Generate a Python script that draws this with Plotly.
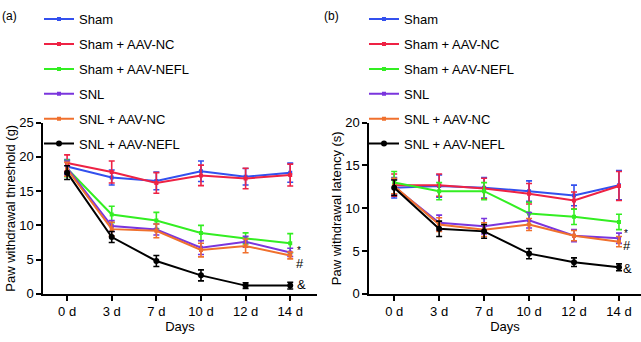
import plotly.graph_objects as go

days = ["0 d", "3 d", "7 d", "10 d", "12 d", "14 d"]
groups = ["Sham", "Sham + AAV-NC", "Sham + AAV-NEFL", "SNL", "SNL + AAV-NC", "SNL + AAV-NEFL"]
colors = ["#3350ee", "#ee2244", "#33ee22", "#7a35dd", "#f0702d", "#000000"]

# (a) Paw withdrawal threshold (g)
pwt_sham = [18.6, 17.0, 16.5, 17.9, 17.1, 17.7]
pwt_sham_nc = [19.1, 17.8, 16.2, 17.3, 16.85, 17.35]
pwt_sham_nefl = [18.3, 11.6, 10.7, 8.9, 8.1, 7.4]
pwt_snl = [18.4, 9.9, 9.4, 6.75, 7.6, 6.05]
pwt_snl_nc = [18.2, 9.45, 9.2, 6.4, 7.0, 5.6]
pwt_snl_nefl = [17.7, 8.3, 4.8, 2.7, 1.2, 1.2]

pwt_sham_sd = [1.0, 1.1, 1.3, 1.5, 1.2, 1.4]
pwt_sham_nc_sd = [1.2, 1.6, 1.5, 1.5, 1.5, 1.6]
pwt_sham_nefl_sd = [1.2, 1.2, 1.2, 1.1, 0.8, 1.4]
pwt_snl_sd = [1.0, 0.8, 0.8, 1.0, 0.8, 0.6]
pwt_snl_nc_sd = [1.0, 1.0, 1.0, 1.0, 1.0, 0.5]
pwt_snl_nefl_sd = [1.0, 0.8, 0.8, 0.8, 0.4, 0.5]

# (b) Paw withdrawal latency (s)
pwl_sham = [12.4, 12.6, 12.4, 12.0, 11.5, 12.7]
pwl_sham_nc = [12.7, 12.7, 12.3, 11.7, 10.9, 12.6]
pwl_sham_nefl = [13.0, 12.0, 12.0, 9.4, 9.0, 8.4]
pwl_snl = [12.5, 8.3, 7.9, 8.6, 6.8, 6.5]
pwl_snl_nc = [12.6, 8.1, 7.5, 8.1, 6.8, 6.1]
pwl_snl_nefl = [12.4, 7.6, 7.3, 4.7, 3.7, 3.1]

pwl_sham_sd = [1.2, 1.3, 1.2, 1.2, 1.2, 1.7]
pwl_sham_nc_sd = [1.3, 1.3, 1.2, 1.2, 1.0, 1.7]
pwl_sham_nefl_sd = [1.3, 1.0, 1.0, 1.3, 0.9, 0.9]
pwl_snl_sd = [0.9, 0.9, 0.9, 0.9, 0.7, 0.6]
pwl_snl_nc_sd = [0.9, 0.8, 0.8, 0.7, 0.6, 0.6]
pwl_snl_nefl_sd = [0.9, 0.9, 0.8, 0.6, 0.5, 0.4]

pwt = [pwt_sham, pwt_sham_nc, pwt_sham_nefl, pwt_snl, pwt_snl_nc, pwt_snl_nefl]
pwt_sd = [pwt_sham_sd, pwt_sham_nc_sd, pwt_sham_nefl_sd, pwt_snl_sd, pwt_snl_nc_sd, pwt_snl_nefl_sd]
pwl = [pwl_sham, pwl_sham_nc, pwl_sham_nefl, pwl_snl, pwl_snl_nc, pwl_snl_nefl]
pwl_sd = [pwl_sham_sd, pwl_sham_nc_sd, pwl_sham_nefl_sd, pwl_snl_sd, pwl_snl_nc_sd, pwl_snl_nefl_sd]

FONT = "Liberation Sans, Arial, sans-serif"
fig = go.Figure()

for panel, (vals, sds, xa, ya, leg) in enumerate([(pwt, pwt_sd, "x", "y", "legend"),
                                                  (pwl, pwl_sd, "x2", "y2", "legend2")]):
    for i, g in enumerate(groups):
        black = (i == 5)
        fig.add_trace(go.Scatter(
            x=days, y=vals[i], name=g, mode="lines+markers",
            xaxis=xa, yaxis=ya, legend=leg, legendgroup=f"{panel}-{i}",
            line=dict(color=colors[i], width=2),
            marker=dict(color=colors[i], size=6 if black else 4, symbol="circle" if black else "square"),
            error_y=dict(type="data", array=sds[i], color=colors[i], thickness=1.6, width=3),
        ))

axis_common = dict(showline=True, linecolor="black", linewidth=1.5, ticks="outside",
                   ticklen=5, tickwidth=1.5, tickcolor="black", showgrid=False, zeroline=False,
                   tickfont=dict(family=FONT, size=13, color="black"),
                   title_font=dict(family=FONT, size=13, color="black"))

fig.update_layout(
    width=641, height=342, margin=dict(l=0, r=0, t=0, b=0),
    paper_bgcolor="white", plot_bgcolor="white",
    font=dict(family=FONT, size=13, color="black"),
    xaxis=dict(domain=[43/641, 317/641], type="category", range=[-0.54, 5.6],
               title=dict(text="Days", standoff=2), anchor="y", **axis_common),
    yaxis=dict(domain=[42/342, 221/342], range=[0, 25], dtick=5,
               title=dict(text="Paw withdrawal threshold (g)", standoff=1), anchor="x", **axis_common),
    xaxis2=dict(domain=[369/641, 1.0], type="category", range=[-0.56, 5.49],
                title=dict(text="Days", standoff=2), anchor="y2", **axis_common),
    yaxis2=dict(domain=[42/342, 221/342], range=[0, 20], dtick=5,
                title=dict(text="Paw withdrawal latency (s)", standoff=1), anchor="x2", **axis_common),
    legend=dict(x=39/641, y=1 + 3/342, xanchor="left", yanchor="top", bgcolor="rgba(0,0,0,0)",
                tracegroupgap=5, font=dict(family=FONT, size=13, color="black")),
    legend2=dict(x=364/641, y=1 + 3/342, xanchor="left", yanchor="top", bgcolor="rgba(0,0,0,0)",
                 tracegroupgap=5, font=dict(family=FONT, size=13, color="black")),
    showlegend=True,
)

ann = []
for xa, ya, pos in [("x", "y", [(6.4, "*", 9), (4.5, "#", 10), (1.3, "&", 11)]),
                    ("x2", "y2", [(7.1, "*", 7), (5.7, "#", 8), (3.0, "&", 9)])]:
    for yv, txt, dx in pos:
        ann.append(dict(x="14 d", y=yv, xref=xa, yref=ya, text=txt, showarrow=False,
                        xshift=dx, font=dict(family=FONT, size=13 if txt != "*" else 10, color="black")))
ann.append(dict(x=0, y=1, xref="paper", yref="paper", xanchor="left", yanchor="top",
                text="(a)", showarrow=False, font=dict(family=FONT, size=12, color="black")))
ann.append(dict(x=322/641, y=1, xref="paper", yref="paper", xanchor="left", yanchor="top",
                text="(b)", showarrow=False, font=dict(family=FONT, size=12, color="black")))
fig.update_layout(annotations=ann)

fig.write_html("out.html", config={"displayModeBar": False},
               post_script="document.body.style.margin='0';document.body.style.overflow='hidden';")
